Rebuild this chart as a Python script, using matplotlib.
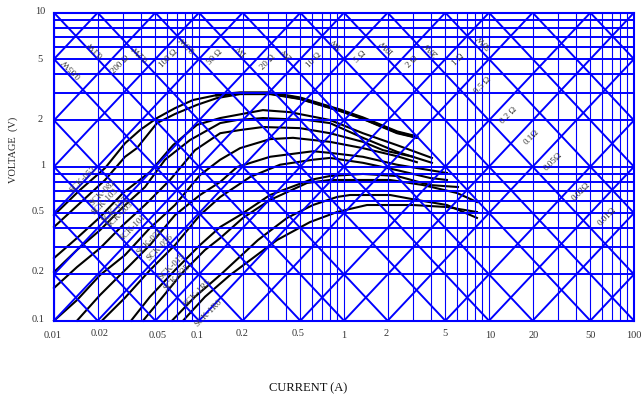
import numpy as np
import matplotlib
matplotlib.use('Agg')
import matplotlib.pyplot as plt

plt.rcParams['font.family'] = ['Liberation Serif', 'DejaVu Serif']

# Curves, current in A and voltage in V
i1 = [.01, .0151, .0225, .0309, .0392, .0513, .0683, .0909, .133, .192, .309, .497, .938, 1.35, 2.32, 3.18]
v1 = [.485, .706, .98, 1.42, 1.73, 2.07, 2.40, 2.71, 2.92, 3.01, 3.01, 2.79, 2.33, 2.07, 1.68, 1.56]
i2 = [.01, .0151, .0225, .0309, .0373, .0513, .0683, .0968, .133, .192, .309, .497, .938, 1.35, 2.32, 3.18]
v2 = [.406, .58, .82, 1.16, 1.32, 1.92, 2.20, 2.52, 2.79, 2.96, 2.96, 2.75, 2.30, 2.04, 1.65, 1.54]
i3 = [.01, .0144, .0208, .0299, .0459, .0662, .0968, .140, .276, .424, .683, .80, 1.35, 2.32, 4.04]
v3 = [.255, .344, .471, .675, .925, 1.38, 1.87, 2.07, 2.33, 2.26, 2.07, 2.01, 1.65, 1.38, 1.14]
i4 = [.01, .0144, .0208, .0299, .0424, .0583, .0867, .140, .183, .276, .556, .80, 1.35, 2.32, 4.04]
v4 = [.207, .288, .388, .547, .738, 1.11, 1.49, 1.92, 2.01, 2.07, 2.01, 1.92, 1.54, 1.25, 1.06]
i5 = [.01, .0144, .0208, .0299, .0424, .0631, .0938, .140, .192, .276, .497, .80, 1.35, 1.86, 2.99]
v5 = [.163, .223, .296, .418, .564, .82, 1.28, 1.65, 1.73, 1.81, 1.78, 1.65, 1.45, 1.28, 1.16]
i6 = [.01, .0144, .0208, .0309, .0459, .0683, .1016, .140, .192, .309, .445, .80, 1.35, 2.32, 3.18]
v6 = [.1, .136, .198, .267, .40, .564, .883, 1.11, 1.32, 1.51, 1.54, 1.45, 1.32, 1.17, 1.07]
i7 = [.0144, .0208, .0309, .0459, .0683, .1016, .140, .183, .309, .611, .80, 1.35, 2.32, 5.13]
v7 = [.1, .147, .213, .31, .485, .655, .796, .995, 1.16, 1.26, 1.23, 1.16, 1.03, .91]
i8 = [.0214, .0309, .0459, .0683, .1016, .140, .225, .362, .611, .80, 1.35, 2.32, 3.92, 5.13]
v8 = [.1, .141, .213, .31, .485, .636, .857, 1.03, 1.11, 1.14, 1.06, .95, .845, .82]
i9 = [.034, .0459, .0683, .1016, .14, .192, .309, .583, .80, 1.35, 2.32, 3.92, 6.11]
v9 = [.1, .143, .213, .31, .406, .485, .655, .82, .87, .897, .87, .76, .738]
i10 = [.0411, .0538, .0776, .11, .14, .201, .309, .556, .80, 2.08, 3.51, 6.01, 8.26]
v10 = [.1, .136, .207, .288, .344, .465, .608, .784, .82, .82, .76, .675, .59]
i11 = [.0651, .0938, .14, .255, .405, .611, .895, 1.10, 2.08, 3.18, 5.13, 8.26]
v11 = [.1, .143, .198, .334, .465, .564, .636, .655, .655, .608, .564, .465]
i12 = [.0776, .11, .164, .345, .583, .895, 1.44, 2.99, 5.13, 8.26]
v12 = [.1, .143, .198, .334, .437, .508, .564, .564, .547, .508]

# Constant power and constant resistance lines
powers = [.001, .002, .005, .01, .02, .05, .1, .2, .5, 1, 2, 5, 10, 20, 50, 100, 200, 500, 1000]
resistances = [.001, .002, .005, .01, .02, .05, .1, .2, .5, 1, 2, 5, 10, 20, 50, 100, 200, 500, 1000]

x_ticks = [.01, .02, .05, .1, .2, .5, 1, 2, 5, 10, 20, 50, 100]
x_labels = ['0.01', '0.02', '0.05', '0.1', '0.2', '0.5', '1', '2', '5', '10', '20', '50', '100']
y_ticks = [.1, .2, .5, 1, 2, 5, 10]
y_labels = ['0.1', '0.2', '0.5', '1', '2', '5', '10']

W = 642
H = 401

fig = plt.figure(figsize=(6.42, 4.01), dpi=100)
ax = fig.add_axes([54/W, (H-320.7)/H, 580/W, 308/H])
ax.set_xscale('log')
ax.set_yscale('log')
ax.set_xlim(.01, 100)
ax.set_ylim(.1, 10)

curves = [(i1, v1), (i2, v2), (i3, v3), (i4, v4), (i5, v5), (i6, v6),
          (i7, v7), (i8, v8), (i9, v9), (i10, v10), (i11, v11), (i12, v12)]
for cur, volt in curves:
    ax.plot(cur, volt, color='k', lw=1.5, zorder=2, clip_on=False)
ax.plot(i1[8:], v1[8:], color='k', lw=2.4, zorder=2)

ends = np.array([.01, 100.])
for p in powers:
    ax.plot(ends, p/ends, color='#0000ff', lw=1.4, zorder=3)
for r in resistances:
    ax.plot(ends, r*ends, color='#0000ff', lw=1.4, zorder=3)

ax.set_xticks(x_ticks)
ax.set_yticks(y_ticks)
ax.xaxis.set_minor_locator(matplotlib.ticker.LogLocator(base=10, subs=range(2, 10), numticks=10))
ax.yaxis.set_minor_locator(matplotlib.ticker.LogLocator(base=10, subs=range(2, 10), numticks=10))
ax.tick_params(which='both', length=0, labelbottom=False, labelleft=False)
ax.grid(True, axis='y', which='both', color='#0000ff', lw=1.4, zorder=3)
ax.grid(True, axis='x', which='both', color='#0000ff', lw=0.8, zorder=3)
ax.set_axisbelow(False)
for s in ax.spines.values():
    s.set_color('#0000ff')
    s.set_linewidth(1.5)


def px_text(x, y, s, **kw):
    fig.text(x/W, (H-y)/H, s, ha='center', va='center', **kw)


# tick labels sit at slightly different heights in the original
x_label_px = [53, 100, 158, 197.5, 242, 298, 344, 386, 445, 490, 534, 590, 634]
x_label_y = [336, 334, 336, 336, 334, 334, 336, 334, 334, 336, 336, 336, 336]
for x, y, s in zip(x_label_px, x_label_y, x_labels):
    px_text(x, y, s, fontsize=7.5, color='#333333')
y_label_px = [38, 38, 38, 43, 40, 40, 40]
y_label_y = [320, 272, 212, 166, 120, 60, 12]
for x, y, s in zip(y_label_px, y_label_y, y_labels):
    px_text(x, y, s, fontsize=7.5, color='#333333')

px_text(308, 388, 'CURRENT (A)', fontsize=9, color='#111111')
px_text(13, 150, 'VOLTAGE  (V)', fontsize=7.5, color='#222222', rotation=90)

watt_labels = ['0.05W', '0.1W', '0.2W', '0.5W', '1W', '2W', '5W', '10W', '20W', '50W']
watt_px = [(72, 68), (95, 48), (140, 52), (187, 43), (241, 50), (287, 53), (336, 43), (387, 46), (431, 48), (484, 41)]
for (x, y), s in zip(watt_px, watt_labels):
    px_text(x, y, s, fontsize=6.5, color='#333333', rotation=135, zorder=5)

ohm_labels = ['200 Ω', '100 Ω', '50 Ω', '20 Ω', '10 Ω', '5 Ω', '2 Ω', '1 Ω', '0.5 Ω', '0.2 Ω', '0.1Ω', '0.05Ω', '0.02Ω', '0.01Ω']
ohm_px = [(120, 65), (169, 59), (215, 57), (268, 62), (314, 60), (360, 57), (412, 62), (458, 60),
          (483, 85), (509, 115), (532, 137), (553, 162), (581, 192), (607, 217)]
for (x, y), s in zip(ohm_px, ohm_labels):
    px_text(x, y, s, fontsize=6.5, color='#333333', rotation=45, zorder=5)

sck_labels = ['SCK-053', 'SCK-082', 'SCK-103', 'SCK-153', 'SCK-203', 'SCK-101', 'SCK-025', 'SCK-056',
              'SCK-015', 'SCK-035', 'SCK-1R5', 'SCK-1R0']
sck_px = [(83, 180), (103, 193), (105, 202), (115, 210), (120, 215), (133, 228), (150, 242), (160, 248),
          (172, 267), (177, 278), (197, 293), (208, 313)]
for (x, y), s in zip(sck_px, sck_labels):
    px_text(x, y, s, fontsize=6.5, color='#444444', rotation=45, zorder=5)

plt.savefig('out.png', dpi=100)
